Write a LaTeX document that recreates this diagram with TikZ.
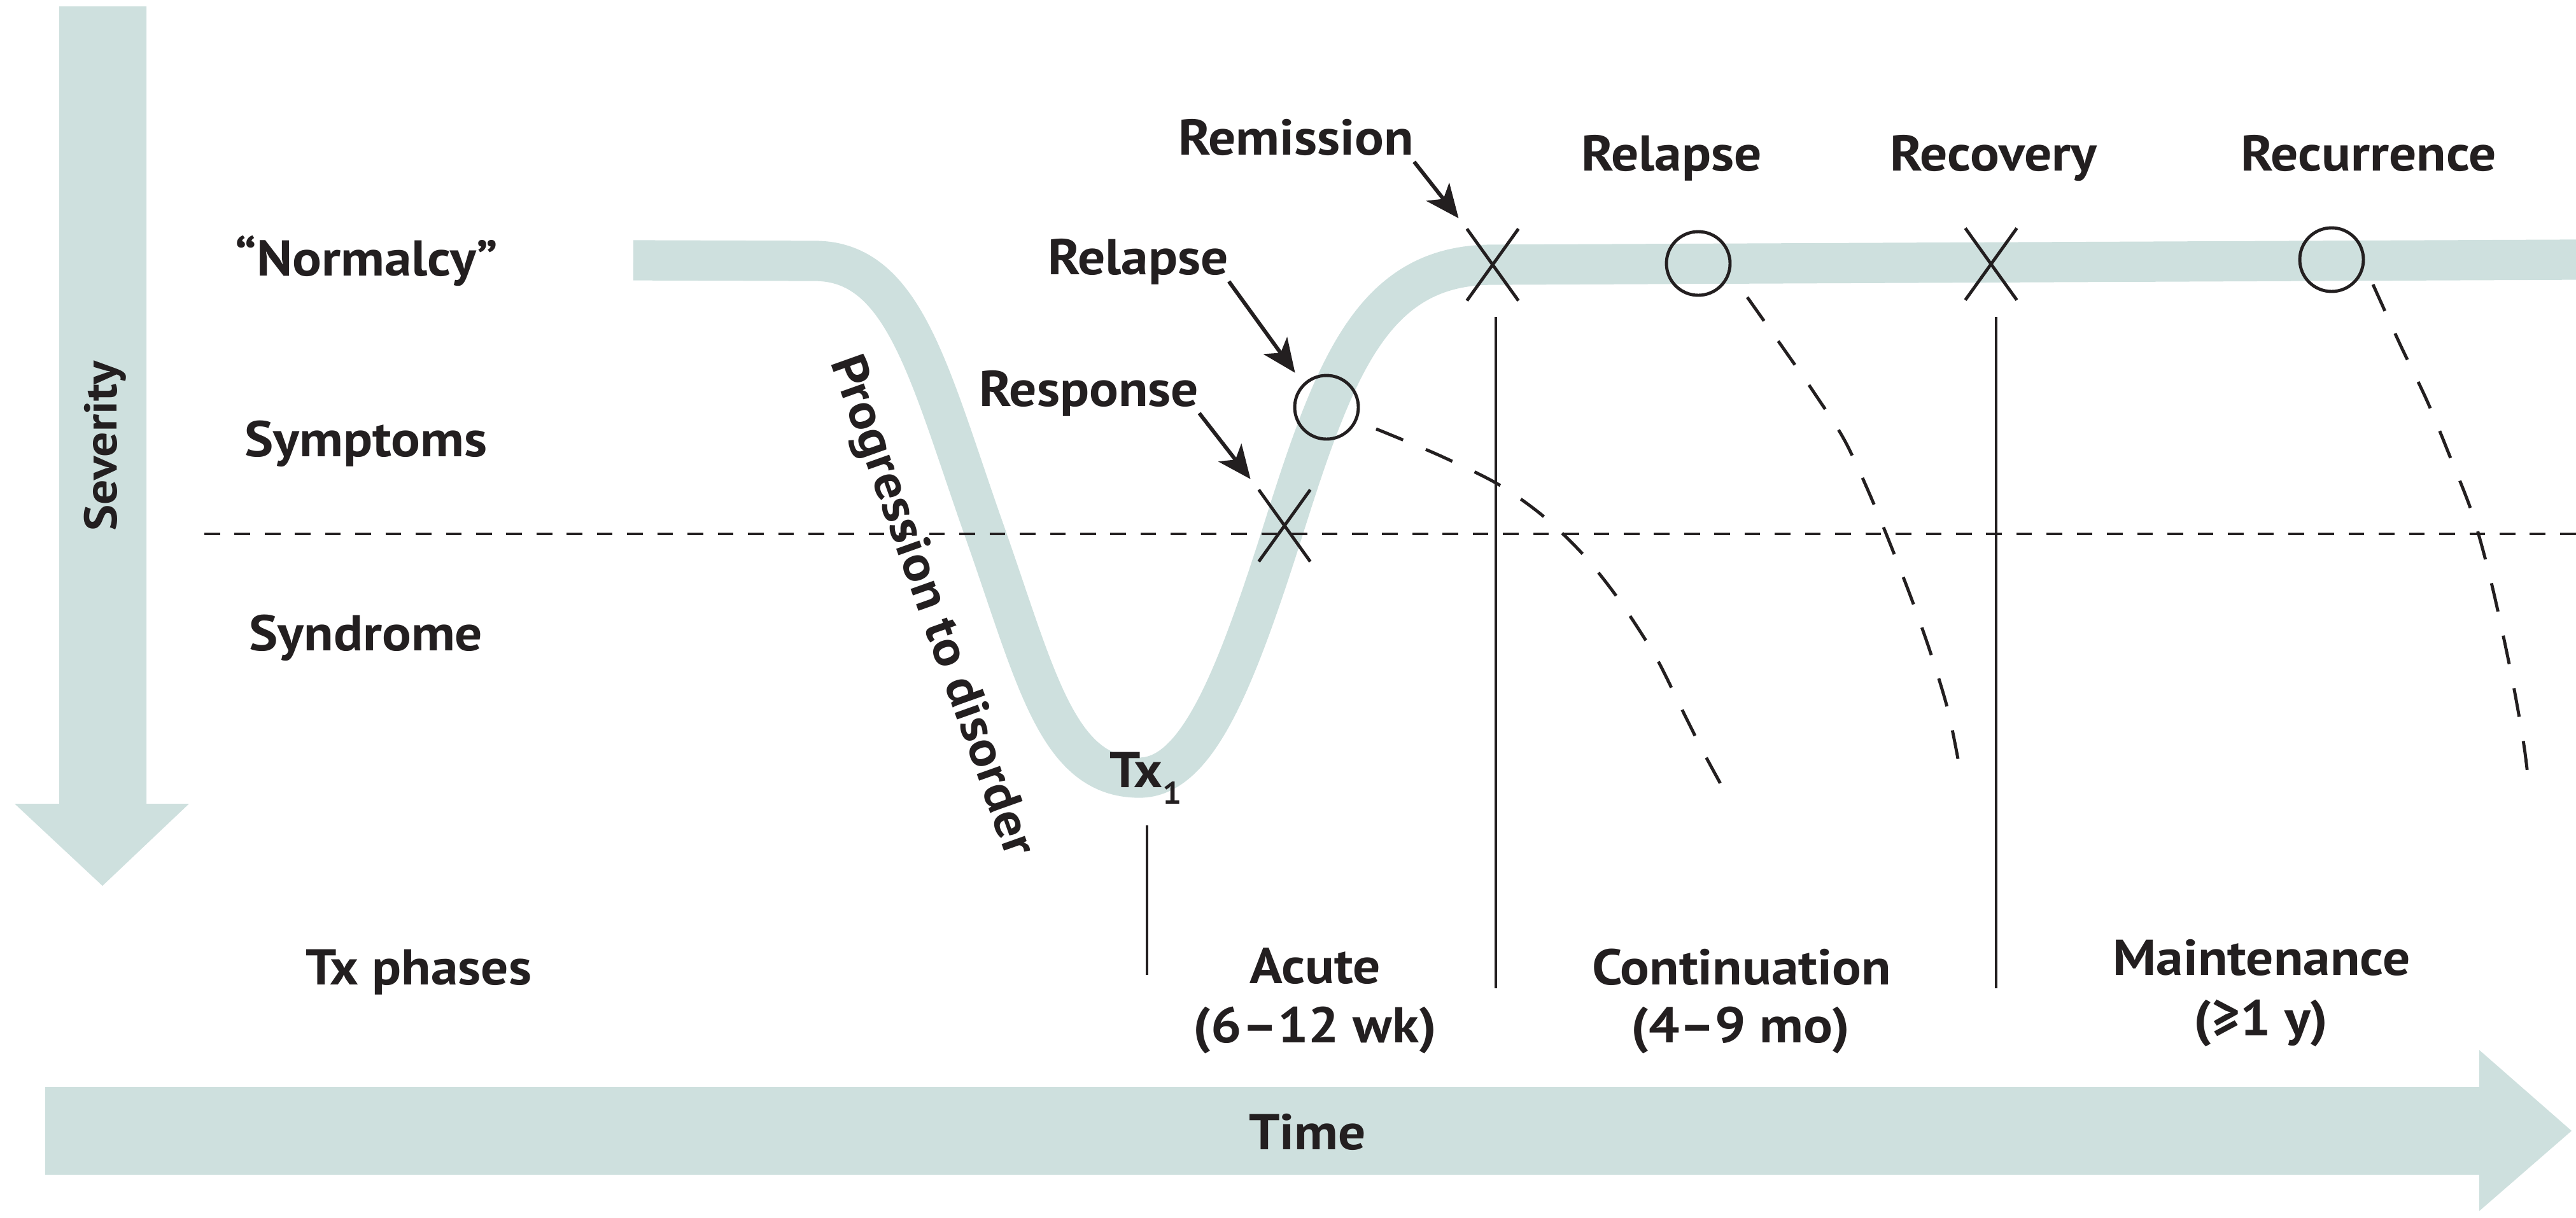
\documentclass[tikz,border=0pt]{standalone}
\usepackage{fontspec}
\setmainfont{PT Sans}[FakeStretch=1.08]
\usetikzlibrary{arrows.meta,shapes.misc}
\definecolor{BandTeal}{RGB}{206,224,222}
\definecolor{InkBlack}{RGB}{35,31,32}

\tikzset{
  lbl/.style={font=\bfseries\fontsize{22.5}{27}\selectfont, text=InkBlack, inner sep=0pt, text depth=0.3em, anchor=base},
  band/.style={BandTeal, line width=18pt},
  xmark/.style={draw=InkBlack, line width=1.4pt, cross out, minimum width=0.76cm, minimum height=1.08cm, inner sep=0pt},
  ring/.style={draw=InkBlack, line width=1.4pt, circle, minimum size=1.0cm, inner sep=0pt},
  pointer/.style={-{Stealth[length=15pt,width=13pt,inset=4pt]}, line width=1.7pt, InkBlack, shorten >=6pt},
  decay/.style={InkBlack, line width=1.4pt, dash pattern=on 13pt off 11pt},
  threshold/.style={InkBlack, line width=1.3pt, dash pattern=on 7pt off 6.5pt},
  divider/.style={InkBlack, line width=1.2pt}
}

\begin{document}
\begin{tikzpicture}[x=1cm, y=-1cm]
        \useasboundingbox (0,0) rectangle (40.47,19.13);
        % axes
        \fill[BandTeal] (0.93,0.10) -- (2.30,0.10) -- (2.30,12.63) -- (2.97,12.63) -- (1.61,13.92) -- (0.23,12.63) -- (0.93,12.63) -- cycle;
        \fill[BandTeal] (0.71,17.08) -- (38.95,17.08) -- (38.95,16.50) -- (40.40,17.77) -- (38.95,19.03) -- (38.95,18.46) -- (0.71,18.46) -- cycle;
        % course of illness
        \draw[band] (9.95,4.09) -- (12.80,4.10) .. controls (14.20,4.10) and (14.59,5.85) .. (15.45,8.30)
          .. controls (16.28,10.65) and (16.60,12.22) .. (17.90,12.22)
          .. controls (18.80,12.22) and (19.40,10.73) .. (20.18,8.26)
          .. controls (20.99,5.69) and (21.60,4.16) .. (23.45,4.16) -- (40.47,4.08);
        \draw[threshold] (3.21,8.39) -- (40.47,8.39);
        \draw[divider] (18.02,12.97) -- (18.02,15.32);
        \draw[divider] (23.50,4.98) -- (23.50,15.53);
        \draw[divider] (31.36,4.98) -- (31.36,15.53);
        \draw[decay] plot[smooth] coordinates {(21.62,6.74) (22.60,7.15) (23.52,7.60) (24.22,8.09) (24.85,8.69) (25.41,9.39) (26.00,10.30) (26.40,11.10) (26.74,11.78) (27.06,12.37)};
        \draw[decay] plot[smooth] coordinates {(27.45,4.67) (28.00,5.45) (28.50,6.17) (28.99,6.94) (29.46,7.97) (29.97,9.25) (30.32,10.23) (30.60,11.15) (30.78,12.03)};
        \draw[decay] plot[smooth] coordinates {(37.28,4.47) (37.71,5.42) (38.13,6.30) (38.50,7.20) (38.85,8.10) (39.15,9.20) (39.45,10.58) (39.65,11.70) (39.74,12.44)};
        % marks
        \node[xmark] (respX) at (20.18,8.26) {};
        \node[ring] (relCirc) at (20.84,6.40) {};
        \node[xmark] (remX) at (23.45,4.16) {};
        \node[ring] (relCircB) at (26.68,4.14) {};
        \node[xmark] (recX) at (31.28,4.15) {};
        \node[ring] (recurCirc) at (36.63,4.08) {};
        % labels
        \node[lbl, anchor=center, rotate=90, font=\bfseries\fontsize{20.5}{24}\selectfont] (severity) at (1.63,7.01) {Severity};
        \node[lbl] (normalcy) at (5.76,4.33) {“Normalcy”};
        \node[lbl] (symptoms) at (5.75,7.17) {Symptoms};
        \node[lbl] (syndrome) at (5.75,10.22) {Syndrome};
        \node[lbl] (txphases) at (6.58,15.47) {Tx phases};
        \node[lbl, anchor=center, rotate=-70.4, font=\bfseries\fontsize{22}{26}\selectfont] (progression) at (14.64,9.52) {Progression to disorder};
        \node[lbl, anchor=base west] (tx1) at (17.43,12.37) {Tx\raisebox{-7.4pt}{\fontsize{14}{14}\selectfont 1}};
        \node[lbl] (response) at (17.11,6.38) {Response};
        \node[lbl] (relapseA) at (17.88,4.31) {Relapse};
        \node[lbl] (remission) at (20.36,2.43) {Remission};
        \node[lbl] (relapseB) at (26.26,2.68) {Relapse};
        \node[lbl] (recovery) at (31.32,2.68) {Recovery};
        \node[lbl] (recurrence) at (37.21,2.68) {Recurrence};
        \node[lbl] (acute) at (20.66,15.45) {Acute};
        \node[lbl] (acuteLen) at (20.66,16.38) {(6–12 wk)};
        \node[lbl] (continuation) at (27.36,15.47) {Continuation};
        \node[lbl] (contLen) at (27.34,16.38) {(4–9 mo)};
        \node[lbl] (maintenance) at (35.53,15.32) {Maintenance};
        \node[lbl] (maintLen) at (35.52,16.27) {(≥1 y)};
        \node[lbl] (time) at (20.54,18.06) {Time};
        \draw[pointer] (remission.south east) -- (remX.north west);
        \draw[pointer] (relapseA.south east) -- (relCirc.north west);
        \draw[pointer] (response.south east) -- (respX.north west);
\end{tikzpicture}
\end{document}
